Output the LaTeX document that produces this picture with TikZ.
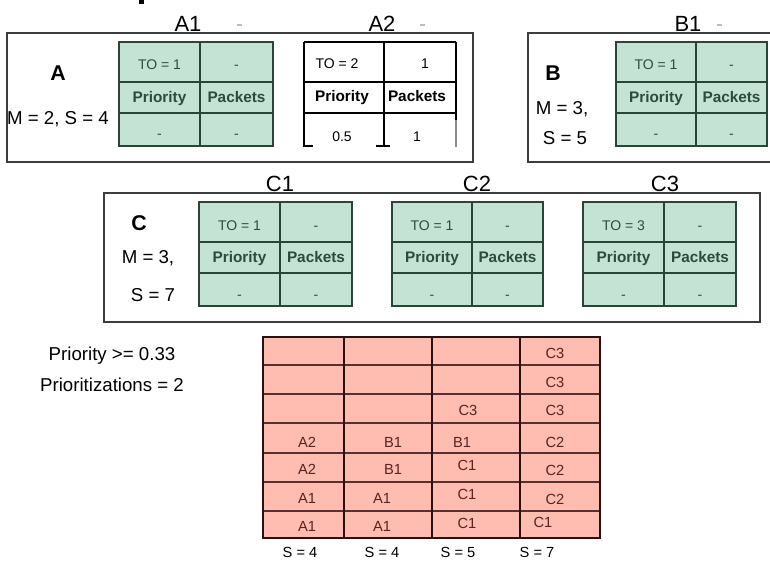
\documentclass[tikz,border=0pt]{standalone}
\usepackage{fontspec}
\setmainfont{Liberation Sans}
\definecolor{gfill}{HTML}{C5E3D5}
\definecolor{gline}{HTML}{2A4536}
\definecolor{gtext}{HTML}{2E4A3E}
\definecolor{rfill}{HTML}{FFBCB0}
\definecolor{rline}{HTML}{2B1010}
\definecolor{rtext}{HTML}{5A2323}
\definecolor{boxc}{HTML}{3C3C3C}
\definecolor{dashc}{HTML}{BBBBBB}
\tikzset{
  box/.style={draw=boxc, line width=0.9pt},
  tabouter/.style={draw=gline, line width=1.7pt},
  tabinner/.style={draw=gline, line width=1.2pt},
  a2line/.style={draw=black, line width=0.8pt},
  cell/.style={font=\fontsize{10.5}{12}\selectfont, text=gtext, inner sep=0pt, text height=7.5pt, text depth=0pt},
  cellb/.style={cell, font=\fontsize{11.5}{13}\selectfont\bfseries, text height=8.3pt},
  acell/.style={cell, text=black},
  acellb/.style={cellb, text=black},
  title/.style={font=\fontsize{16.5}{19}\selectfont, inner sep=0pt, text height=11.8pt, text depth=0pt},
  side/.style={font=\fontsize{14}{16}\selectfont, inner sep=0pt, text height=10pt, text depth=0pt},
  letter/.style={font=\fontsize{16}{19}\selectfont\bfseries, inner sep=0pt, text height=11.5pt, text depth=0pt},
  gridt/.style={font=\fontsize{11}{13}\selectfont, text=rtext, inner sep=0pt, text height=7.9pt, text depth=0pt},
  slabel/.style={font=\fontsize{11}{13}\selectfont, inner sep=0pt, text height=7.9pt, text depth=0pt},
  note/.style={font=\fontsize{14}{17}\selectfont, inner sep=0pt, text height=10pt, text depth=0pt},
  gdash/.style={draw=dashc, line width=0.8pt},
  gridouter/.style={draw=rline, line width=1.5pt},
  gridv/.style={draw=rline, line width=1.4pt},
  gridh/.style={draw=rline!80!rfill, line width=1.1pt}
}
% green table: #1 name, #2 left, #3 mid, #4 right, #5 top, #6 TO text
\newcommand\gtab[6]{%
  \fill[gfill] (#2,#5) rectangle (#4,#5+104);
  \draw[tabinner] (#3,#5) -- (#3,#5+104) (#2,#5+40) -- (#4,#5+40) (#2,#5+71) -- (#4,#5+71);
  \draw[tabouter] (#2,#5) rectangle (#4,#5+104);
  \node[cell]  (#1to)  at ({(#2+#3)/2},#5+23) {#6};
  \node[cell]  (#1tr)  at ({(#3+#4)/2},#5+23) {-};
  \node[cellb] (#1pr)  at ({(#2+#3)/2},#5+55) {Priority};
  \node[cellb] (#1pk)  at ({(#3+#4)/2},#5+55) {Packets};
  \node[cell]  (#1bl)  at ({(#2+#3)/2},#5+92) {-};
  \node[cell]  (#1br)  at ({(#3+#4)/2},#5+92) {-};
}
\begin{document}
\begin{tikzpicture}[x=0.75pt,y=-0.75pt]
\useasboundingbox (0,0) rectangle (770,563);
\clip (0,0) rectangle (770,563);
\fill[white] (0,0) rectangle (770,563);

% clipped title fragment
\fill[black] (139,0) rectangle (144,4);

% ---------- group A ----------
\draw[box] (7,33) rectangle (473,162);
\node[letter] (Aname) at (58,73) {A};
\node[side] (Ams) at (58,118) {M = 2, S = 4};
\node[title] (A1t) at (188,23.5) {A1};
\draw[gdash] (237,25) -- (242,25);
\gtab{a1}{119}{200}{273}{42}{TO = 1}

\node[title] (A2t) at (382,23.5) {A2};
\draw[gdash] (420,25) -- (425,25);
\draw[a2line] (304,42) -- (456,42) (304,82) -- (456,82) (304,113) -- (456,113)
  (304,42) -- (304,147) (384,42) -- (384,147) (456,42) -- (456,120)
  (304,146) -- (313,146) (376,146) -- (390,146);
\draw[a2line, draw=black!45] (456,120) -- (456,147);
\node[acell]  (a2to) at (337,64) {TO = 2};
\node[acell]  (a2tr) at (425,64) {1};
\node[acellb] (a2pr) at (342,96) {Priority};
\node[acellb] (a2pk) at (417,96) {Packets};
\node[acell]  (a2bl) at (342,137) {0.5};
\node[acell]  (a2br) at (417,137) {1};

% ---------- group B ----------
\draw[box] (528,33) rectangle (790,162);
\node[letter] (Bname) at (553,73) {B};
\node[side] (Bm) at (562,108) {M = 3,};
\node[side] (Bs) at (565,138) {S = 5};
\node[title] (B1t) at (688,23.5) {B1};
\draw[gdash] (717,25) -- (722,25);
\gtab{b1}{616}{696}{767}{42}{TO = 1}

% ---------- group C ----------
\draw[box] (104,193) rectangle (760,322);
\node[letter] (Cname) at (139,223) {C};
\node[side] (Cm) at (148,257) {M = 3,};
\node[side] (Cs) at (153,295) {S = 7};
\node[title] (C1t) at (280,183.5) {C1};
\node[title] (C2t) at (477,183.5) {C2};
\node[title] (C3t) at (665,183.5) {C3};
\gtab{c1}{199}{280}{352}{202}{TO = 1}
\gtab{c2}{392}{472}{543}{202}{TO = 1}
\gtab{c3}{583}{664}{736}{202}{TO = 3}
\draw[white, line width=0.6pt] (592,307) -- (657,307) (673,307) -- (735,307);

% ---------- notes ----------
\node[note] (prio) at (112,354) {Priority >= 0.33};
\node[note] (prios) at (112,385) {Prioritizations = 2};

% ---------- schedule grid ----------
\fill[rfill] (263,337) rectangle (600,538);
\foreach \y in {365,394,423,453,482,511} { \draw[gridh] (263,\y) -- (600,\y); }
\foreach \x in {344,432,520} { \draw[gridv] (\x,337) -- (\x,538); }
\draw[gridouter] (263,337) rectangle (600,538);

\node[gridt] (g14) at (307,442) {A2};
\node[gridt] (g15) at (307,469) {A2};
\node[gridt] (g16) at (307,498) {A1};
\node[gridt] (g17) at (307,526) {A1};
\node[gridt] (g24) at (393,442) {B1};
\node[gridt] (g25) at (393,469) {B1};
\node[gridt] (g26) at (382,498) {A1};
\node[gridt] (g27) at (382,526) {A1};
\node[gridt] (g33) at (468,410) {C3};
\node[gridt] (g34) at (462,442) {B1};
\node[gridt] (g35) at (467,465) {C1};
\node[gridt] (g36) at (467,494) {C1};
\node[gridt] (g37) at (467,523) {C1};
\node[gridt] (g41) at (555,353) {C3};
\node[gridt] (g42) at (555,382) {C3};
\node[gridt] (g43) at (555,410) {C3};
\node[gridt] (g44) at (555,442) {C2};
\node[gridt] (g45) at (555,470) {C2};
\node[gridt] (g46) at (555,499) {C2};
\node[gridt] (g47) at (543,522) {C1};

\node[slabel] (s1) at (300,552) {S = 4};
\node[slabel] (s2) at (382,552) {S = 4};
\node[slabel] (s3) at (458,552) {S = 5};
\node[slabel] (s4) at (537,552) {S = 7};
\end{tikzpicture}
\end{document}
